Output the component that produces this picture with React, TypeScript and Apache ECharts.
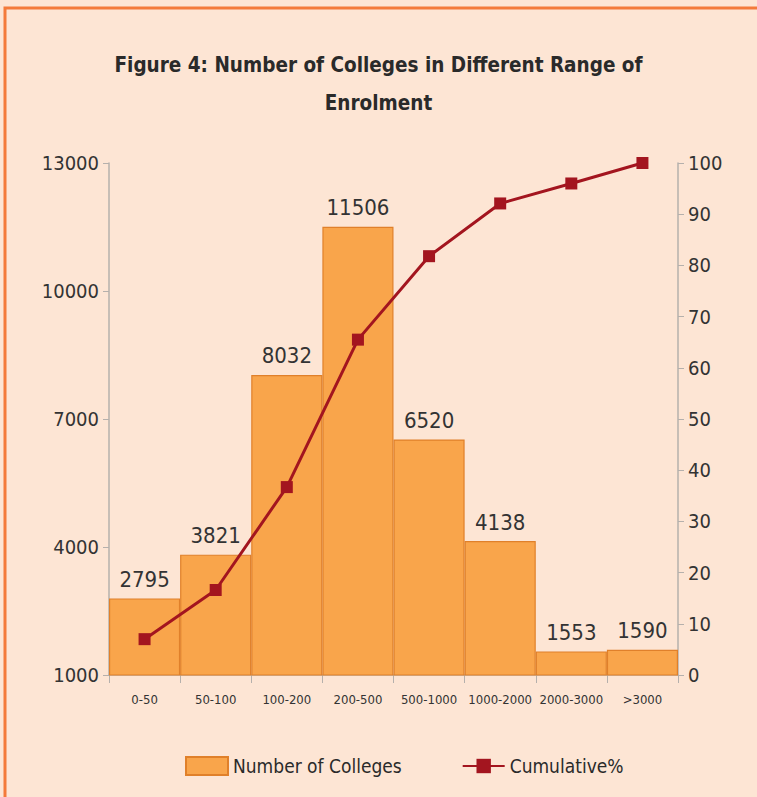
import React, { useEffect, useRef } from "react";
import * as echarts from "echarts";

const categories = ["0-50", "50-100", "100-200", "200-500", "500-1000", "1000-2000", "2000-3000", ">3000"];
const colleges = [2795, 3821, 8032, 11506, 6520, 4138, 1553, 1590];
const cumulative = [7.0, 16.6, 36.7, 65.5, 81.8, 92.1, 96.0, 100];
const leftTicks = [1000, 4000, 7000, 10000, 13000];

const FONT = "'DejaVu Sans Condensed', 'Liberation Sans', sans-serif";

export default function App() {
  const ref = useRef<HTMLDivElement>(null);
  useEffect(() => {
    document.body.style.margin = "0";
    const chart = echarts.init(ref.current!, null, { renderer: "svg" });
    chart.setOption({
      animation: false,
      backgroundColor: "#fde5d4",
      textStyle: { fontFamily: FONT },
      graphic: [
        {
          type: "rect",
          shape: { x: 5, y: 8, width: 760, height: 800 },
          style: { fill: "none", stroke: "#f47a3a", lineWidth: 3 },
          z: 0,
        },
      ],
      title: {
        text: "Figure 4: Number of Colleges in Different Range of\nEnrolment",
        left: "center",
        top: 41,
        textStyle: {
          fontFamily: FONT,
          fontSize: 20.5,
          fontWeight: "bold",
          color: "#2a2a2a",
          lineHeight: 38,
        },
      },
      legend: {
        bottom: 16,
        left: 180,
        itemGap: 60,
        itemWidth: 42,
        itemHeight: 18,
        textStyle: { fontFamily: FONT, fontSize: 19, color: "#2a2a2a" },
        data: [
          { name: "Number of Colleges", icon: "rect" },
          { name: "Cumulative%" },
        ],
      },
      grid: { left: 109, right: 79, top: 163, bottom: 122 },
      xAxis: {
        type: "category",
        data: categories,
        axisLine: { lineStyle: { color: "#b5b0ac", width: 1.5 } },
        axisTick: { show: true, alignWithLabel: false, length: 8, lineStyle: { color: "#b5b0ac" } },
        axisLabel: { interval: 0, fontFamily: FONT, fontSize: 13, color: "#333", margin: 18 },
      },
      yAxis: [
        {
          type: "value",
          min: 1000,
          max: 13000,
          interval: 3000,
          splitLine: { show: false },
          axisLine: { show: true, lineStyle: { color: "#b5b0ac", width: 1.5 } },
          axisTick: { show: true, length: 6, lineStyle: { color: "#b5b0ac" } },
          axisLabel: {
            fontFamily: FONT,
            fontSize: 20,
            color: "#333",
            margin: 10,
            formatter: (v: number) => (leftTicks.includes(v) ? String(v) : ""),
          },
        },
        {
          type: "value",
          min: 0,
          max: 100,
          interval: 10,
          position: "right",
          splitLine: { show: false },
          axisLine: { show: true, lineStyle: { color: "#b5b0ac", width: 1.5 } },
          axisTick: { show: true, length: 6, lineStyle: { color: "#b5b0ac" } },
          axisLabel: { fontFamily: FONT, fontSize: 20, color: "#333", margin: 10 },
        },
      ],
      series: [
        {
          name: "Number of Colleges",
          type: "bar",
          data: colleges,
          barCategoryGap: "0%",
          itemStyle: { color: "#f9a54b", borderColor: "#e0802a", borderWidth: 1.2 },
          label: {
            show: true,
            position: "top",
            distance: 8,
            fontFamily: FONT,
            fontSize: 22,
            color: "#333",
          },
          z: 2,
        },
        {
          name: "Cumulative%",
          type: "line",
          yAxisIndex: 1,
          data: cumulative,
          symbol: "rect",
          symbolSize: 12,
          lineStyle: { color: "#a3151f", width: 3 },
          itemStyle: { color: "#a3151f" },
          z: 3,
        },
      ],
    });
    return () => chart.dispose();
  }, []);
  return <div ref={ref} style={{ width: 757, height: 797 }} />;
}
